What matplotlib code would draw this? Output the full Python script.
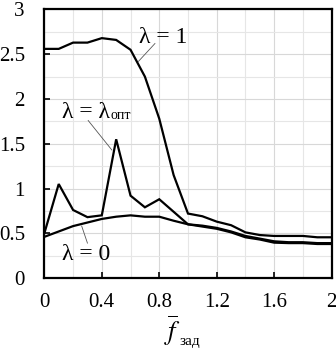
import matplotlib
matplotlib.use("Agg")
import matplotlib.pyplot as plt
from matplotlib.ticker import MultipleLocator

x = [0.0, 0.1, 0.2, 0.3, 0.4, 0.5, 0.6, 0.7, 0.8, 0.9, 1.0,
     1.1, 1.2, 1.3, 1.4, 1.5, 1.6, 1.7, 1.8, 1.9, 2.0]
lam1 = [2.56, 2.56, 2.63, 2.63, 2.68, 2.66, 2.55, 2.25, 1.78, 1.15, 0.72,
        0.69, 0.63, 0.59, 0.51, 0.48, 0.47, 0.47, 0.47, 0.455, 0.455]
lamopt = [0.50, 1.05, 0.76, 0.68, 0.70, 1.55, 0.92, 0.79, 0.88, 0.74, 0.60,
          0.585, 0.56, 0.52, 0.47, 0.44, 0.41, 0.40, 0.40, 0.39, 0.39]
lam0 = [0.46, 0.52, 0.58, 0.62, 0.66, 0.685, 0.70, 0.685, 0.685, 0.64, 0.60,
        0.575, 0.55, 0.51, 0.455, 0.43, 0.395, 0.39, 0.39, 0.38, 0.38]
xticks = [0, 0.4, 0.8, 1.2, 1.6, 2]
xticklabels = ["0", "0.4", "0.8", "1.2", "1.6", "2"]
yticks = [0, 0.5, 1, 1.5, 2, 2.5, 3]
yticklabels = ["0", "0.5", "1", "1.5", "2", "2.5", "3"]

plt.rcParams['font.family'] = ['Liberation Serif', 'DejaVu Serif']
plt.rcParams['mathtext.fontset'] = 'stix'

fig = plt.figure(figsize=(3.36, 3.49), dpi=100)
ax = fig.add_axes([0.132, 0.2034, 0.855, 0.7694])

ax.set_xlim(0, 2)
ax.set_ylim(0, 3)
ax.xaxis.set_minor_locator(MultipleLocator(0.2))
ax.yaxis.set_minor_locator(MultipleLocator(0.25))
ax.grid(True, which='major', color='#d8d8d8', linewidth=0.8)
ax.grid(True, which='minor', color='#e6e6e6', linewidth=0.8)
ax.set_axisbelow(True)

for ys in (lam1, lamopt, lam0):
    ax.plot(x, ys, color='black', linewidth=1.6, solid_joinstyle='miter')

ax.set_xticks(xticks)
ax.set_xticklabels(xticklabels)
ax.set_yticks(yticks)
ax.set_yticklabels(yticklabels)
ax.tick_params(which='major', direction='in', length=4, width=1.2,
               labelsize=15, top=False, right=False)
ax.tick_params(axis='x', pad=11)
ax.tick_params(axis='y', pad=14)
ax.tick_params(which='minor', length=0)
for s in ax.spines.values():
    s.set_linewidth(1.6)

# annotations
ax.text(0.66, 2.69, "λ = 1", fontsize=17, ha='left', va='center')
ax.plot([0.655, 0.77], [2.42, 2.62], color='#555555', linewidth=0.6)
ax.text(0.125, 1.793, "λ = λ", fontsize=17, ha='left', va='baseline')
ax.text(0.46, 1.78, "опт", fontsize=10, ha='left', va='baseline')
ax.plot([0.305, 0.47], [1.76, 1.43], color='#555555', linewidth=0.6)
ax.text(0.125, 0.26, "λ = 0", fontsize=17, ha='left', va='center')
ax.plot([0.26, 0.30], [0.58, 0.39], color='#555555', linewidth=0.6)

fig.text(0.512, 0.026, r"$\overline{f}$", fontsize=19, ha='center', va='baseline')
fig.text(0.535, 0.012, "зад", fontsize=11, ha='left', va='baseline')

fig.savefig("out.png", dpi=100)
